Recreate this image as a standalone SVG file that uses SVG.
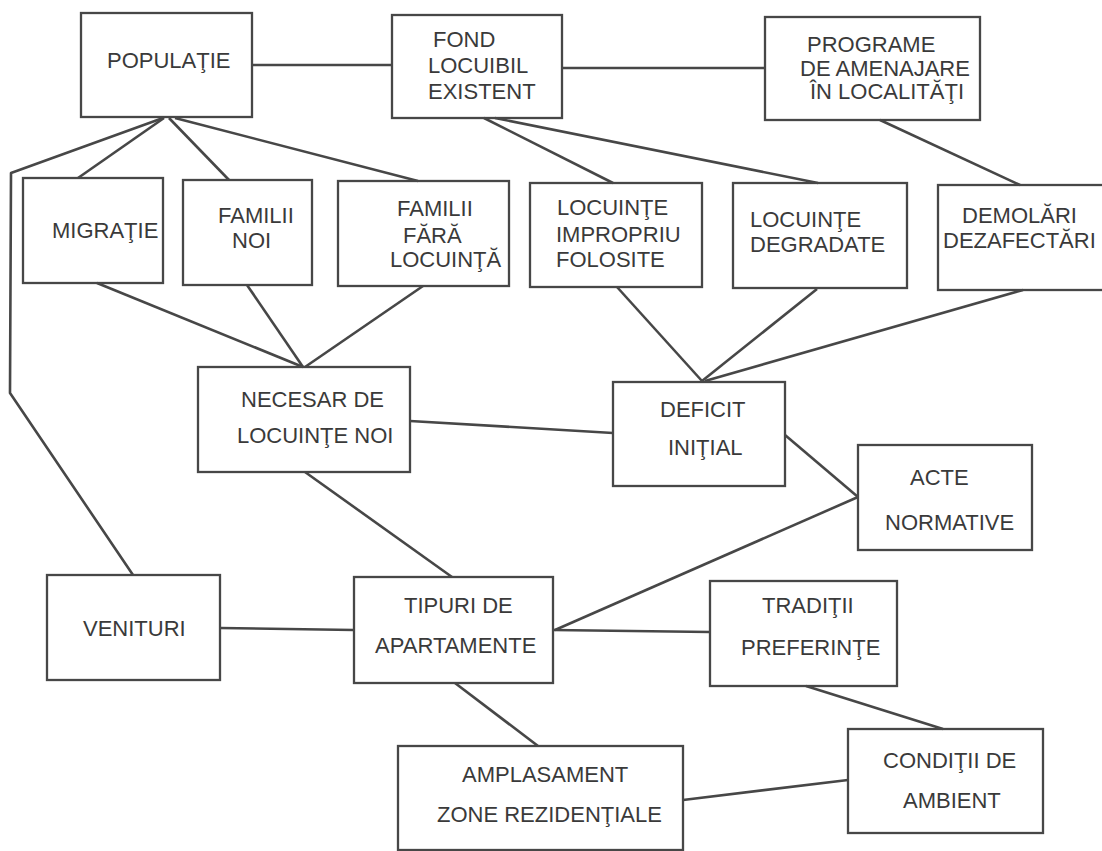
<svg xmlns="http://www.w3.org/2000/svg" width="1102" height="851" viewBox="0 0 1102 851">
  <style>
    .box { fill: none; stroke: #474747; stroke-width: 2.3; }
    .lbl { font-family: "Liberation Sans", Arial, Helvetica, sans-serif; font-size: 22px; fill: #3a3a3a; }
    .link { fill: none; stroke: #474747; stroke-width: 2.6; stroke-linejoin: round; }
  </style>
  <rect width="1102" height="851" fill="#ffffff"/>

  <!-- connectors -->
  <g id="connectors" class="link">
    <line x1="252" y1="65" x2="392" y2="65"/>
    <line x1="562" y1="68" x2="765" y2="68"/>
    <polyline points="163,118 11,173 10,393 133,575"/>
    <line x1="164" y1="118" x2="78" y2="178"/>
    <line x1="169" y1="118" x2="229" y2="180"/>
    <line x1="175" y1="118" x2="418" y2="181"/>
    <line x1="484" y1="118" x2="613" y2="183"/>
    <line x1="495" y1="118" x2="818" y2="183"/>
    <line x1="880" y1="120" x2="1020" y2="185"/>
    <line x1="97" y1="283" x2="303" y2="367"/>
    <line x1="247" y1="285" x2="303" y2="367"/>
    <line x1="423" y1="286" x2="305" y2="367"/>
    <line x1="617" y1="287" x2="702" y2="381"/>
    <line x1="817" y1="289" x2="702" y2="381"/>
    <line x1="1023" y1="290" x2="705" y2="381"/>
    <line x1="410" y1="421" x2="613" y2="433"/>
    <line x1="785" y1="435" x2="858" y2="497"/>
    <line x1="858" y1="497" x2="555" y2="630"/>
    <line x1="305" y1="472" x2="452" y2="577"/>
    <line x1="220" y1="628" x2="354" y2="630"/>
    <line x1="553" y1="630" x2="710" y2="632"/>
    <line x1="455" y1="683" x2="538" y2="746"/>
    <line x1="806" y1="686" x2="943" y2="729"/>
    <line x1="683" y1="800" x2="848" y2="780"/>
  </g>

  <!-- nodes -->
  <g id="populatie">
    <rect class="box" x="81" y="13" width="171" height="104"/>
    <text class="lbl" x="107" y="68">POPULAŢIE</text>
  </g>
  <g id="fond-locuibil">
    <rect class="box" x="392" y="15" width="170" height="103"/>
    <text class="lbl" x="433" y="47">FOND</text>
    <text class="lbl" x="428" y="73">LOCUIBIL</text>
    <text class="lbl" x="428" y="99">EXISTENT</text>
  </g>
  <g id="programe">
    <rect class="box" x="765" y="17" width="215" height="103"/>
    <text class="lbl" x="807" y="52">PROGRAME</text>
    <text class="lbl" x="800" y="76">DE AMENAJARE</text>
    <text class="lbl" x="810" y="99">ÎN LOCALITĂŢI</text>
  </g>
  <g id="migratie">
    <rect class="box" x="23" y="178" width="140" height="105"/>
    <text class="lbl" x="52" y="238">MIGRAŢIE</text>
  </g>
  <g id="familii-noi">
    <rect class="box" x="183" y="180" width="129" height="105"/>
    <text class="lbl" x="218" y="223">FAMILII</text>
    <text class="lbl" x="232" y="248">NOI</text>
  </g>
  <g id="familii-fara-locuinta">
    <rect class="box" x="338" y="181" width="171" height="105"/>
    <text class="lbl" x="397" y="216">FAMILII</text>
    <text class="lbl" x="403" y="243">FĂRĂ</text>
    <text class="lbl" x="390" y="267">LOCUINŢĂ</text>
  </g>
  <g id="locuinte-impropriu">
    <rect class="box" x="530" y="183" width="172" height="104"/>
    <text class="lbl" x="557" y="215">LOCUINŢE</text>
    <text class="lbl" x="556" y="242">IMPROPRIU</text>
    <text class="lbl" x="556" y="267">FOLOSITE</text>
  </g>
  <g id="locuinte-degradate">
    <rect class="box" x="733" y="183" width="174" height="105"/>
    <text class="lbl" x="750" y="227">LOCUINŢE</text>
    <text class="lbl" x="750" y="252">DEGRADATE</text>
  </g>
  <g id="demolari">
    <rect class="box" x="938" y="185" width="180" height="105"/>
    <text class="lbl" x="962" y="223">DEMOLĂRI</text>
    <text class="lbl" x="943" y="248">DEZAFECTĂRI</text>
  </g>
  <g id="necesar">
    <rect class="box" x="198" y="367" width="212" height="105"/>
    <text class="lbl" x="241" y="407">NECESAR DE</text>
    <text class="lbl" x="237" y="443">LOCUINŢE NOI</text>
  </g>
  <g id="deficit">
    <rect class="box" x="613" y="382" width="172" height="104"/>
    <text class="lbl" x="660" y="417">DEFICIT</text>
    <text class="lbl" x="668" y="455">INIŢIAL</text>
  </g>
  <g id="acte-normative">
    <rect class="box" x="858" y="445" width="174" height="105"/>
    <text class="lbl" x="910" y="485">ACTE</text>
    <text class="lbl" x="885" y="530">NORMATIVE</text>
  </g>
  <g id="venituri">
    <rect class="box" x="47" y="575" width="173" height="105"/>
    <text class="lbl" x="83" y="636">VENITURI</text>
  </g>
  <g id="tipuri">
    <rect class="box" x="354" y="577" width="199" height="106"/>
    <text class="lbl" x="404" y="613">TIPURI DE</text>
    <text class="lbl" x="375" y="653">APARTAMENTE</text>
  </g>
  <g id="traditii">
    <rect class="box" x="710" y="581" width="187" height="105"/>
    <text class="lbl" x="762" y="613">TRADIŢII</text>
    <text class="lbl" x="741" y="655">PREFERINŢE</text>
  </g>
  <g id="amplasament">
    <rect class="box" x="398" y="746" width="285" height="104"/>
    <text class="lbl" x="462" y="782">AMPLASAMENT</text>
    <text class="lbl" x="437" y="822">ZONE REZIDENŢIALE</text>
  </g>
  <g id="conditii">
    <rect class="box" x="848" y="729" width="195" height="104"/>
    <text class="lbl" x="883" y="768">CONDIŢII DE</text>
    <text class="lbl" x="903" y="808">AMBIENT</text>
  </g>
</svg>
